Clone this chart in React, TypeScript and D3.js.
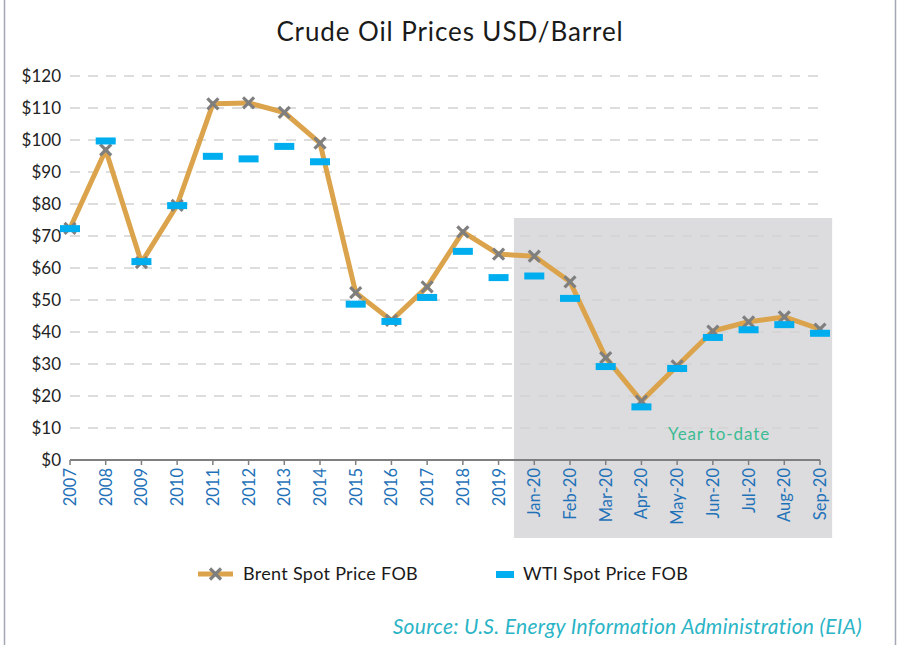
import React from "react";
import * as d3 from "d3";

const categories = ["2007","2008","2009","2010","2011","2012","2013","2014","2015","2016","2017","2018","2019","Jan-20","Feb-20","Mar-20","Apr-20","May-20","Jun-20","Jul-20","Aug-20","Sep-20"];
const brent = [72.4,96.9,61.7,79.6,111.3,111.6,108.6,99.0,52.3,43.6,54.1,71.3,64.3,63.7,55.7,32.0,18.4,29.4,40.3,43.2,44.7,40.9];
const wti = [72.3,99.7,62.0,79.5,94.9,94.1,98.0,93.2,48.7,43.3,50.8,65.2,57.0,57.5,50.5,29.2,16.6,28.6,38.3,40.7,42.3,39.6];
const yTicks = [0,10,20,30,40,50,60,70,80,90,100,110,120];
const ytdStart = "Jan-20";
const ytdEnd = "Sep-20";

const FONT = "Lato, 'Noto Sans', sans-serif";

export default function App() {
  const W = 900, H = 645;
  const x = d3.scalePoint<string>().domain(categories).range([70, 820]);
  const y = d3.scaleLinear().domain([0, 120]).range([460, 76]);
  const step = x.step();
  const line = d3.line<number>().x((_, i) => x(categories[i])!).y(d => y(d));
  const xs = x(ytdStart)! - step * 0.57;
  const xe = x(ytdEnd)! + step * 0.34;
  const xMark = (cx: number, cy: number, k: number) => {
    const s = 5.5;
    return (
      <g key={k} stroke="#7f7f7f" strokeWidth={3.2}>
        <line x1={cx - s} y1={cy - s} x2={cx + s} y2={cy + s} />
        <line x1={cx - s} y1={cy + s} x2={cx + s} y2={cy - s} />
      </g>
    );
  };
  return (
    <svg width={W} height={H} style={{ position: "absolute", left: 0, top: 0, background: "#fff" }} fontFamily={FONT}>
      <rect x={0} y={0} width={W} height={H} fill="#fff" />
      <line x1={4.5} y1={0} x2={4.5} y2={H} stroke="#a3a7b3" strokeWidth={1.5} />
      <line x1={895.5} y1={0} x2={895.5} y2={H} stroke="#a3a7b3" strokeWidth={1.5} />
      <text x={450} y={41} textAnchor="middle" fontSize={26} letterSpacing={0.9} fill="#1a1a1a">Crude Oil Prices USD/Barrel</text>
      <rect x={xs} y={218} width={xe - xs} height={538 - 218} fill="#dcdcde" />
      {yTicks.filter(t => t > 0).map(t => (
        <line key={t} x1={70} x2={820} y1={y(t)} y2={y(t)} stroke="#d2d2d4" strokeWidth={1.6} strokeDasharray="10,8" />
      ))}
      {yTicks.map(t => (
        <text key={t} x={61} y={y(t)} dy="0.35em" textAnchor="end" fontSize={17} fill="#222">${t}</text>
      ))}
      <line x1={70} x2={820} y1={460} y2={460} stroke="#7f7f7f" strokeWidth={2} />
      {categories.map(c => (
        <line key={c} x1={x(c)!} x2={x(c)!} y1={460} y2={465} stroke="#7f7f7f" strokeWidth={1.5} />
      ))}
      {categories.map(c => (
        <text key={c} transform={`translate(${x(c)! + 6},${468}) rotate(-90)`} textAnchor="end" fontSize={16.5} fill="#1f72b8">{c}</text>
      ))}
      <text x={668} y={440} fontSize={17} letterSpacing={0.9} fill="#3dbb93">Year to-date</text>
      <path d={line(brent)!} fill="none" stroke="#dba44c" strokeWidth={5} strokeLinejoin="round" />
      {brent.map((v, i) => xMark(x(categories[i])!, y(v), i))}
      {wti.map((v, i) => (
        <rect key={i} x={x(categories[i])! - 10} y={y(v) - 3.5} width={20} height={7} fill="#00aeef" />
      ))}
      <line x1={198} x2={233} y1={574} y2={574} stroke="#dba44c" strokeWidth={5} />
      {xMark(215.5, 574, 999)}
      <text x={243} y={574} dy="0.35em" fontSize={18} letterSpacing={0.3} fill="#1a1a1a">Brent Spot Price FOB</text>
      <rect x={496} y={571} width={18} height={7} fill="#00aeef" />
      <text x={523} y={574} dy="0.35em" fontSize={18} letterSpacing={0.3} fill="#1a1a1a">WTI Spot Price FOB</text>
      <text x={862} y={634} textAnchor="end" fontSize={21} fontStyle="italic" letterSpacing={0.3} fill="#2ab4c6">Source: U.S. Energy Information Administration (EIA)</text>
    </svg>
  );
}
